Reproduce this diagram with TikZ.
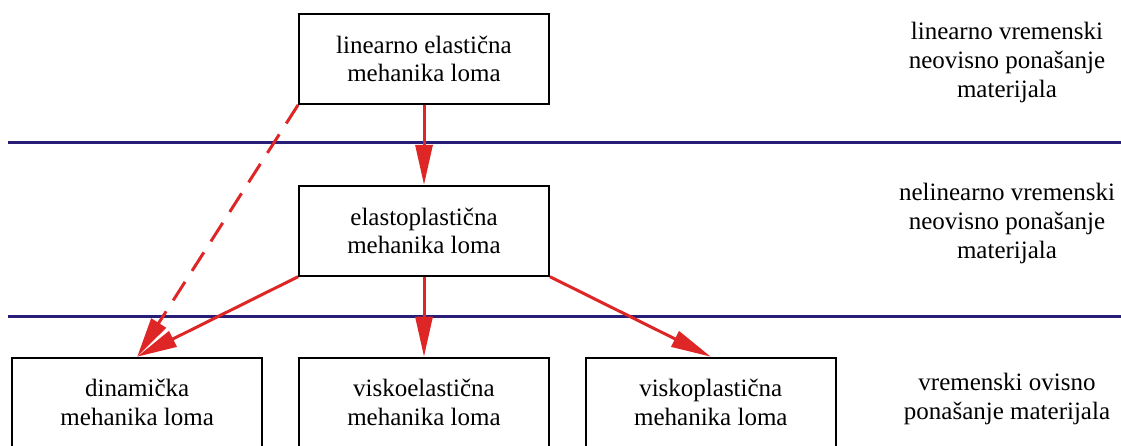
\documentclass[tikz,border=0pt]{standalone}
\usepackage{fontspec}
\setmainfont{Liberation Serif}
\usetikzlibrary{arrows.meta,positioning}

\definecolor{arrred}{RGB}{222,38,38}
\definecolor{sepblue}{RGB}{40,30,120}

\begin{document}
\begin{tikzpicture}[
  x=1pt, y=-1pt,
  box/.style  = {rectangle, draw, line width=1.8pt, inner sep=0pt,
                 minimum width=250pt, minimum height=90pt, align=center,
                 font=\rmfamily\fontsize{25}{28.5}\selectfont},
  lab/.style  = {align=center, font=\rmfamily\fontsize{25}{29}\selectfont},
  sep/.style  = {draw=sepblue, line width=3pt},
  arr/.style  = {-{Triangle[length=40pt, width=17pt]}, draw=arrred,
                 line width=3pt},
  darr/.style = {arr, dash pattern=on 22pt off 13pt}
]
\useasboundingbox (0,0) rectangle (1121,446);
\clip (0,0) rectangle (1121,446);
% boxes
\node[box] (lin) at (424,59) {linearno elastična\\mehanika loma};
\node[box, below=80pt of lin]  (ep)  {elastoplastična\\mehanika loma};
\node[box, below=80pt of ep]   (ve)  {viskoelastična\\mehanika loma};
\node[box, left=35pt of ve]    (din) {dinamička\\mehanika loma};
\node[box, right=35pt of ve]   (vp)  {viskoplastična\\mehanika loma};
% levels
\node[lab] (l1) at (1007,62)  {linearno vremenski\\neovisno ponašanje\\materijala};
\node[lab] (l2) at (1007,223) {nelinearno vremenski\\neovisno ponašanje\\materijala};
\node[lab] (l3) at (1007,399) {vremenski ovisno\\ponašanje materijala};
% separators
\coordinate (s1a) at (8,143);  \coordinate (s1b) at (1121,143);
\coordinate (s2a) at (8,316);  \coordinate (s2b) at (1121,316);
\draw[sep] (s1a) -- (s1b);
\draw[sep] (s2a) -- (s2b);
% arrows
\draw[arr]  (lin) -- (ep);
\draw[darr] (lin.south west) -- (din.north);
\draw[arr]  (ep.south west) -- (din.north);
\draw[arr]  (ep) -- (ve);
\draw[arr]  (ep.south east) -- (vp.north);
\end{tikzpicture}
\end{document}
